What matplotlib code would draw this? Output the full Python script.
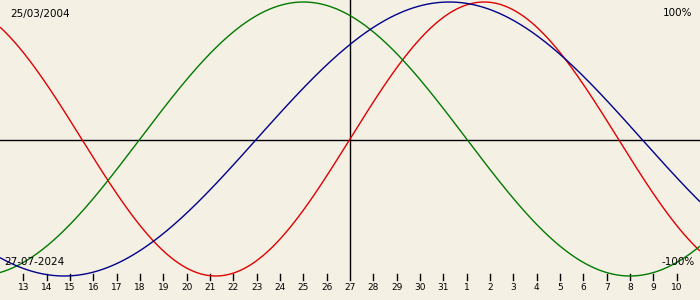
import datetime
import matplotlib
matplotlib.use("Agg")
import matplotlib.pyplot as plt
import numpy as np

# biorhythm chart data
birth_date = datetime.date(2004, 3, 25)
view_date = datetime.date(2024, 7, 27)
cycle_names = ["physical", "emotional", "intellectual"]
cycle_days = [23, 28, 33]
cycle_colors = ["#e00000", "#007a00", "#00008c"]
day_span = 15  # days shown on each side of the view date

bg = "#f4f0e4"
W, H = 700, 300
mid_y, amp = 139.0, 137.0


def to_v(py):
    # pixel row -> data value
    return (mid_y - py) / amp


fig = plt.figure(figsize=(W / 100, H / 100), dpi=100, facecolor=bg)
ax = fig.add_axes([0, 0, 1, 1])
ax.set_facecolor(bg)
ax.set_xlim(-day_span, day_span)
ax.set_ylim(to_v(H), to_v(0))
ax.axis("off")

age = (view_date - birth_date).days
d = np.linspace(-day_span, day_span, 1200)
for name, period, color in zip(cycle_names, cycle_days, cycle_colors):
    v = np.sin(2 * np.pi * (age + d) / period)
    ax.plot(d, v, color=color, lw=1.0, solid_capstyle="butt", zorder=3)

# axes lines
ax.axhline(to_v(140), color="black", lw=1.0, zorder=2)
ax.plot([0, 0], [to_v(280), to_v(0)], color="black", lw=1.0, zorder=2)

# day ticks
for k in range(-day_span + 1, day_span):
    if k == 0:
        continue
    day = view_date + datetime.timedelta(days=k)
    ax.plot([k, k], [to_v(274), to_v(280)], color="black", lw=1.0, zorder=2)
for k in range(-day_span + 1, day_span):
    day = view_date + datetime.timedelta(days=k)
    ax.text(k, to_v(288), str(day.day), ha="center", va="center",
            fontsize=6.5, family="DejaVu Sans", color="black")

ax.text(10 / W, 1 - 14 / H, birth_date.strftime("%d/%m/%Y"), transform=ax.transAxes,
        ha="left", va="center", fontsize=7.5, color="black")
ax.text(692 / W, 1 - 13 / H, "100%", transform=ax.transAxes,
        ha="right", va="center", fontsize=7.5, color="black")
ax.text(4 / W, 1 - 262 / H, view_date.strftime("%d-%m-%Y"), transform=ax.transAxes,
        ha="left", va="center", fontsize=7.5, color="black")
ax.text(695 / W, 1 - 262 / H, "-100%", transform=ax.transAxes,
        ha="right", va="center", fontsize=7.5, color="black")

fig.savefig("out.png", dpi=100, facecolor=bg)
